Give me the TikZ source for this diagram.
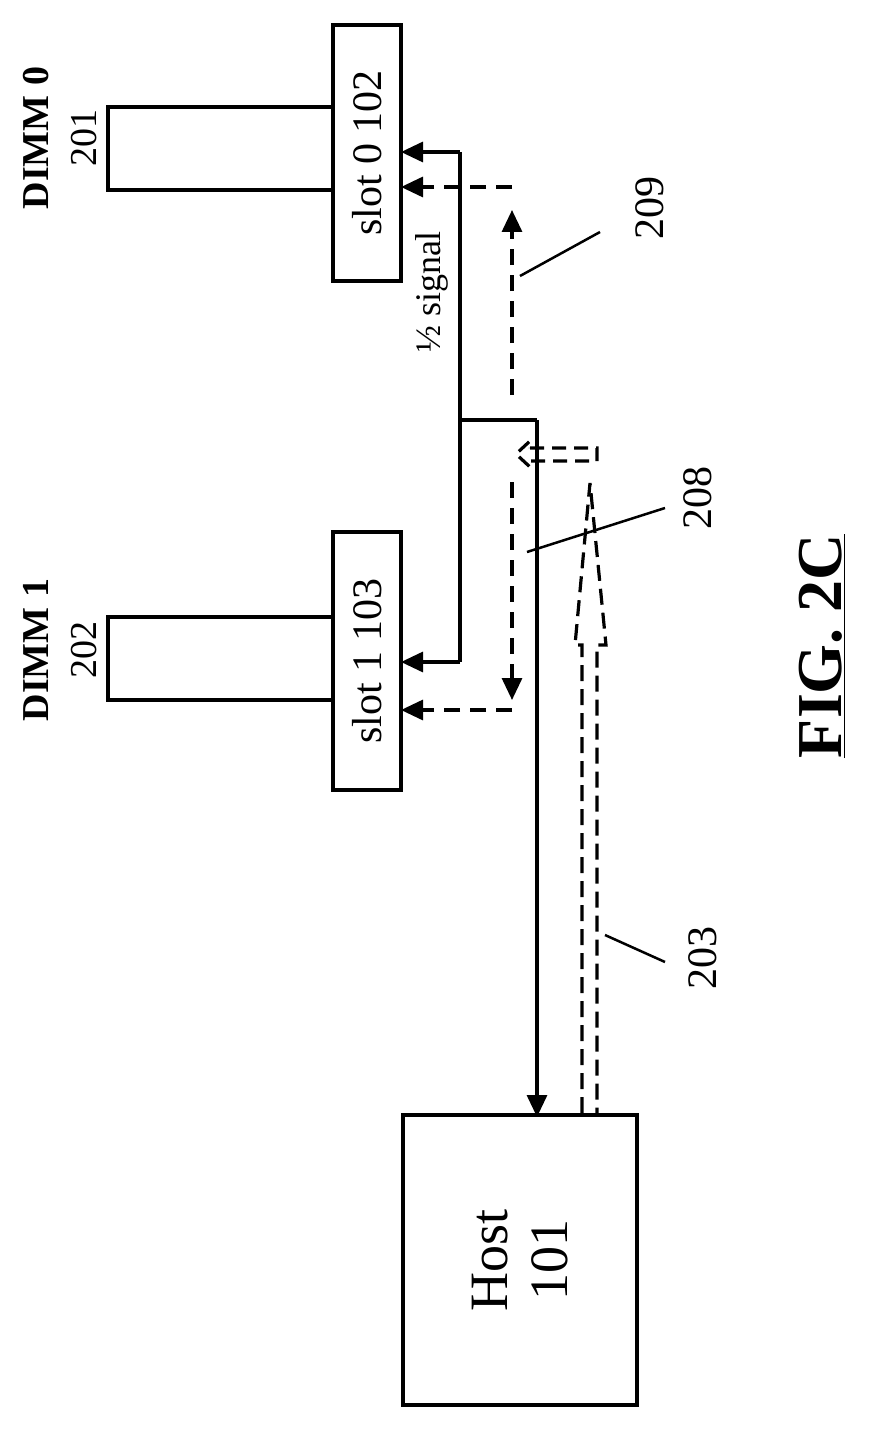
\documentclass[tikz,border=0pt]{standalone}
\usepackage{fontspec}
\setmainfont{Liberation Serif}
\usetikzlibrary{arrows.meta}
\begin{document}
\begin{tikzpicture}[x={(1pt,0)},y={(0,-1pt)},line width=3.2pt,
  tri/.style={-{Triangle[length=22pt,width=20pt]}},
  dsh/.style={dash pattern=on 16pt off 10pt},
  lbl/.style={rotate=90,font=\fontsize{42}{42}\selectfont}]
\useasboundingbox (0,0) rectangle (877,1431);
% DIMM modules
\draw (333,107) -- (108,107) -- (108,190) -- (333,190);
\draw (333,617) -- (108,617) -- (108,700) -- (333,700);
\node[draw,minimum width=68pt,minimum height=256pt,inner sep=0] (s0) at (367,153) {};
\node[draw,minimum width=68pt,minimum height=258pt,inner sep=0] (s1) at (367,661) {};
\node[lbl] at (s0) {slot 0 102};
\node[lbl] at (s1) {slot 1 103};
\node[draw,minimum width=234pt,minimum height=290pt,inner sep=0] (host) at (520,1260) {};
\node[rotate=90,align=center,font=\fontsize{54}{60}\selectfont] at (host) {Host\\101};
\node[rotate=90,align=center,font=\fontsize{38}{48}\selectfont] (d0) at (60,138) {\textbf{DIMM 0}\\201};
\node[rotate=90,align=center,font=\fontsize{38}{48}\selectfont] (d1) at (60,650) {\textbf{DIMM 1}\\202};
\node[rotate=90,font=\fontsize{36}{36}\selectfont] (half) at (432,292) {½ signal};
% solid bus
\coordinate (b0) at (460,152); \coordinate (b1) at (460,662);
\coordinate (bj) at (460,420); \coordinate (hj) at (537,420);
\draw[tri] (b0) -- (401,152);
\draw (b0) -- (b1);
\draw[tri] (b1) -- (401,662);
\draw (bj) -- (hj);
\draw[tri] (hj) -- (537,1117);
% dashed reflections
\coordinate (r0) at (512,187); \coordinate (r1) at (512,710);
\draw[tri,dsh] (r0) -- (401,187);
\draw[tri,dsh] (r1) -- (401,710);
\draw[tri,dsh] (512,395) -- (512,210);
\draw[tri,dsh] (512,482) -- (512,700);
% hollow dashed arrows
\draw[dash pattern=on 16pt off 8pt] (582,1113) -- (582,645) -- (575,645) -- (590,483) -- (606,645) -- (597,645) -- (597,1113);
\draw[dash pattern=on 14pt off 8pt] (530,448) -- (597,448) -- (597,461) -- (530,461) -- (530,467) -- (516,454) -- (530,441) -- cycle;
% reference labels
\node[lbl] (l209) at (650,208) {209};
\node[lbl] (l208) at (698,498) {208};
\node[lbl] (l203) at (703,958) {203};
\draw[line width=2.5pt] (520,276) -- (600,232);
\draw[line width=2.5pt] (527,552) -- (665,508);
\draw[line width=2.5pt] (605,935) -- (665,962);
\node[rotate=90,font=\bfseries\fontsize{64}{64}\selectfont] (fig) at (822,646) {\underline{FIG. 2C}};
\end{tikzpicture}
\end{document}
